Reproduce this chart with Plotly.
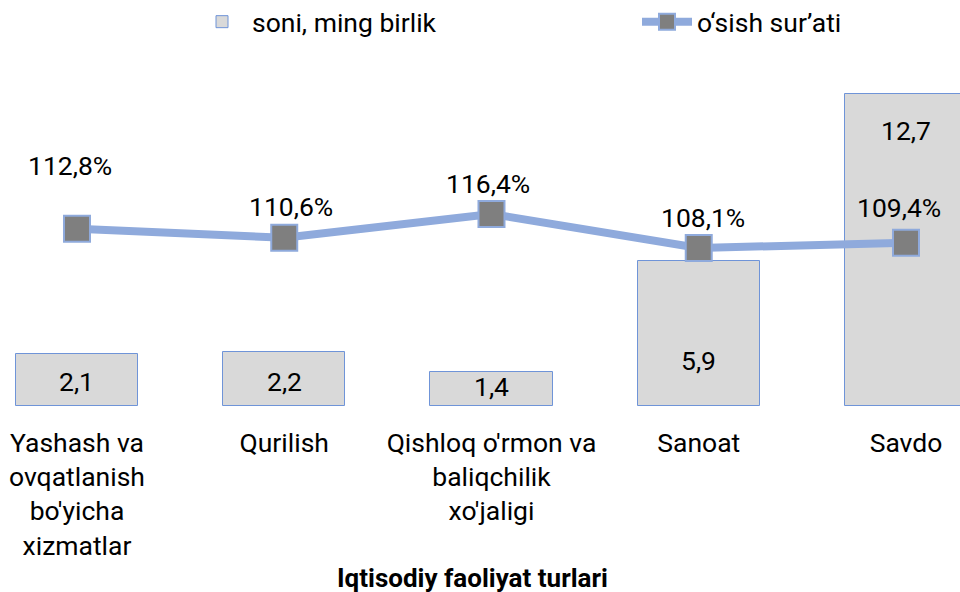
import plotly.graph_objects as go

categories = ["Yashash va<br>ovqatlanish<br>bo'yicha<br>xizmatlar", "Qurilish",
              "Qishloq o'rmon va<br>baliqchilik<br>xo'jaligi", "Sanoat", "Savdo"]
count_values = [2.1, 2.2, 1.4, 5.9, 12.7]
count_labels = ["2,1", "2,2", "1,4", "5,9", "12,7"]
growth_values = [112.8, 110.6, 116.4, 108.1, 109.4]
growth_labels = ["112,8%", "110,6%", "116,4%", "108,1%", "109,4%"]

# label placement (styling)
bar_label_y = [1.0, 1.0, 0.8, 1.87, 11.2]
line_label_yshift = [63, 31, 31, 31, 35]
line_label_xshift = [-7, 7, -3, 4, -7]

FONT = "Roboto"
FS = 26.5
x = list(range(len(categories)))

fig = go.Figure()
fig.add_trace(go.Bar(
    x=x, y=count_values, name="soni, ming birlik",
    marker=dict(color="#d9d9d9", line=dict(color="#6f94d8", width=1)),
    width=0.59, yaxis="y",
))
fig.add_trace(go.Scatter(
    x=x, y=growth_values, name="o‘sish sur’ati", yaxis="y2",
    mode="lines+markers",
    line=dict(color="#8faadc", width=8),
    marker=dict(symbol="square", size=26, color="#7f7f7f",
                line=dict(color="#8faadc", width=2)),
))

ann = []
for i in x:
    ann.append(dict(x=i, y=bar_label_y[i], xref="x", yref="y", text=count_labels[i],
                    showarrow=False, font=dict(family=FONT, size=FS, color="#000")))
    ann.append(dict(x=i, y=growth_values[i], xref="x", yref="y2", text=growth_labels[i],
                    showarrow=False, yshift=line_label_yshift[i], xshift=line_label_xshift[i],
                    font=dict(family=FONT, size=FS, color="#000")))
ann.append(dict(x=0.492, y=-(578 - 406) / 346, xref="paper", yref="paper", yanchor="middle",
                text="<b>Iqtisodiy faoliyat turlari</b>", showarrow=False,
                font=dict(family=FONT, size=26, color="#000")))

fig.update_layout(
    width=960, height=592,
    margin=dict(l=0, r=0, t=60, b=186, autoexpand=False),
    paper_bgcolor="white", plot_bgcolor="white",
    font=dict(family=FONT, size=FS, color="#000"),
    bargap=0,
    showlegend=True,
    legend=dict(orientation="h", x=0.2, y=1.11, xanchor="left", yanchor="middle",
                entrywidth=380, font=dict(family=FONT, size=FS), itemwidth=50),
    xaxis=dict(tickvals=x, ticktext=categories, range=[-0.3715, 4.2606],
               showgrid=False, zeroline=False, showline=False, ticks="",
               tickfont=dict(family=FONT, size=FS), ticklabelstandoff=18),
    yaxis=dict(range=[0, 14.065], visible=False, showgrid=False),
    yaxis2=dict(range=[69.53, 154.0], overlaying="y", side="right", visible=False, showgrid=False),
    annotations=ann,
)

fig.write_html("out.html", config={"displayModeBar": False},
               post_script="document.body.style.margin='0';")
